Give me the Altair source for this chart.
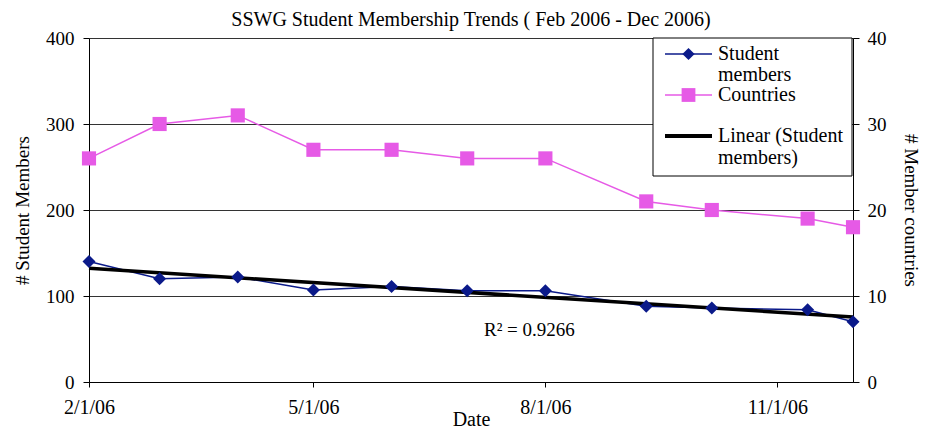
import altair as alt
import pandas as pd

# ---- data ----
dates = ["2006-02-01", "2006-03-01", "2006-04-01", "2006-05-01", "2006-06-01",
         "2006-07-01", "2006-08-01", "2006-09-10", "2006-10-06", "2006-11-13",
         "2006-12-01"]
students = [140, 120, 122, 107, 111, 106, 106, 88, 86, 84, 70]
countries = [26, 30, 31, 27, 27, 26, 26, 21, 20, 19, 18]
tick_dates = [(2006, 2, 1), (2006, 5, 1), (2006, 8, 1), (2006, 11, 1)]
left_ticks = [0, 100, 200, 300, 400]
right_ticks = [0, 10, 20, 30, 40]
r2_label = "R² = 0.9266"
title_text = "SSWG Student Membership Trends ( Feb 2006 - Dec 2006)"

df = pd.DataFrame({"date": dates, "students": students, "countries": countries})

FONT = "Liberation Serif"
NAVY = "#0b1a8a"
PINK = "#e65ae6"
W, H = 764, 344

xscale = alt.Scale(domain=[alt.DateTime(year=2006, month=2, date=1),
                           alt.DateTime(year=2006, month=12, date=1)], nice=False)
xaxis = alt.Axis(values=[alt.DateTime(year=y, month=m, date=d) for (y, m, d) in tick_dates],
                 format="%-m/%-d/%y", title="Date", grid=False, labelFlush=False,
                 labelFont=FONT, labelFontSize=20, labelColor="black",
                 titleFont=FONT, titleFontSize=20, titleFontWeight="normal", titleColor="black",
                 titleBaseline="alphabetic", titleY=43,
                 domainColor="black", tickColor="black", tickSize=5, labelPadding=10)
X = alt.X("t:T", scale=xscale, axis=xaxis)

base = alt.Chart(df).transform_calculate(t="time(toDate(datum.date))")

left_axis = alt.Axis(values=left_ticks, title="# Student Members", grid=True,
                     gridColor="#333333", gridWidth=1, domainColor="black", tickColor="black",
                     tickSize=6, labelFont=FONT, labelFontSize=19, labelColor="black",
                     titleFont=FONT, titleFontSize=19, titleFontWeight="normal",
                     titleColor="black", labelPadding=9, titlePadding=13)
right_axis = alt.Axis(values=right_ticks, title="# Member countries", orient="right",
                      grid=False, domainColor="black", tickColor="black", tickSize=6,
                      labelFont=FONT, labelFontSize=19, labelColor="black",
                      titleFont=FONT, titleFontSize=19, titleFontWeight="normal",
                      titleColor="black", labelPadding=8, titlePadding=14)

Y1 = alt.Y("students:Q", scale=alt.Scale(domain=[0, 400], nice=False), axis=left_axis)
Y2 = alt.Y("countries:Q", scale=alt.Scale(domain=[0, 40], nice=False), axis=right_axis)

blue_line = base.mark_line(color=NAVY, strokeWidth=1.5).encode(x=X, y=Y1)
blue_pts = base.mark_point(shape="diamond", filled=True, color=NAVY, size=170, opacity=1).encode(x=X, y=Y1)
trend = base.transform_regression("t", "students").mark_line(color="black", strokeWidth=3.5).encode(x=X, y=Y1)
r2 = alt.Chart(pd.DataFrame({"label": [r2_label]})).mark_text(
    font=FONT, fontSize=19, align="left", baseline="middle", color="black"
).encode(text="label:N", x=alt.value(395), y=alt.value(292))
title = alt.Chart(pd.DataFrame({"label": [title_text]})).mark_text(
    font=FONT, fontSize=20, align="center", baseline="alphabetic", color="black"
).encode(text="label:N", x=alt.value(W / 2), y=alt.value(-12))

left_layer = alt.layer(blue_line, trend, blue_pts, r2, title)

pink_line = base.mark_line(color=PINK, strokeWidth=1.5).encode(x=X, y=Y2)
pink_pts = base.mark_square(color=PINK, size=200, opacity=1).encode(x=X, y=Y2)
right_layer = alt.layer(pink_line, pink_pts)

# ---- legend box (drawn manually, Excel style) ----
one = pd.DataFrame({"k": [0]})
lg = alt.Chart(one)
box = lg.mark_rect(fill="white", stroke="black", strokeWidth=1).encode(
    x=alt.value(564), x2=alt.value(763), y=alt.value(0), y2=alt.value(138))
lg_blue = lg.mark_rule(color=NAVY, strokeWidth=1.5).encode(
    x=alt.value(576), x2=alt.value(623), y=alt.value(16))
lg_blue_pt = lg.mark_point(shape="diamond", filled=True, color=NAVY, size=150, opacity=1).encode(
    x=alt.value(599.5), y=alt.value(16))
lg_pink = lg.mark_rule(color=PINK, strokeWidth=1.5).encode(
    x=alt.value(576), x2=alt.value(623), y=alt.value(57))
lg_pink_pt = lg.mark_square(color=PINK, size=190, opacity=1).encode(
    x=alt.value(599.5), y=alt.value(57))
lg_black = lg.mark_rule(color="black", strokeWidth=4).encode(
    x=alt.value(576), x2=alt.value(623), y=alt.value(98))
legend_texts = []
for txt, yy in [("Student", 16), ("members", 37), ("Countries", 57),
                ("Linear (Student", 98), ("members)", 120)]:
    legend_texts.append(
        alt.Chart(pd.DataFrame({"s": [txt]})).mark_text(
            font=FONT, fontSize=20, align="left", baseline="middle", color="black"
        ).encode(text="s:N", x=alt.value(629), y=alt.value(yy)))

legend = alt.layer(box, lg_blue, lg_blue_pt, lg_pink, lg_pink_pt, lg_black, *legend_texts)

chart = alt.layer(left_layer, right_layer, legend).resolve_scale(y="independent").properties(
    width=W, height=H,
    autosize=alt.AutoSizeParams(type="none"),
    padding={"left": 81, "top": 30, "right": 71, "bottom": 48},
).configure_view(stroke="black", strokeWidth=1).configure(background="white")

chart.save("out.html", embed_options={"renderer": "svg", "actions": False})
